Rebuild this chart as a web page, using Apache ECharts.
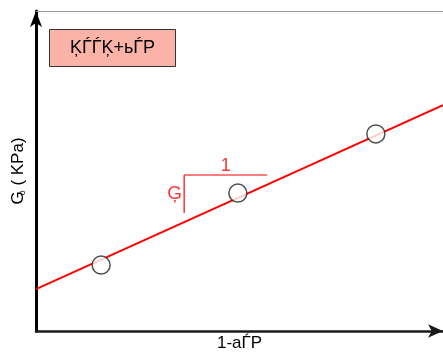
<!DOCTYPE html>
<html>
<head>
<meta charset="utf-8">
<script src="https://cdn.jsdelivr.net/npm/echarts@6/dist/echarts.min.js"></script>
<style>
  html, body { margin: 0; padding: 0; background: #fff; }
  #chart { width: 443px; height: 354px; }
</style>
</head>
<body>
<div id="chart"></div>
<script>
// Measured points (hollow circles)
const pointsX = [0.16, 0.496, 0.835];
const pointsY = [0.206, 0.431, 0.616];

// Fitted straight line, end to end across the plot
const fitX = [0, 1];
const fitY = [0.131, 0.706];

// Slope triangle: horizontal run and vertical rise
const runX = [0.364, 0.568];
const runY = [0.4875, 0.4875];
const riseX = [0.364, 0.364];
const riseY = [0.4875, 0.369];

// Texts
const legendText = 'ĶЃЃĶ+ьЃР';
const xName = '1-aЃР';
const runLabel = '1';
const riseLabel = 'Ģ';

const zip = (xs, ys) => xs.map((x, i) => [x, ys[i]]);

const chart = echarts.init(document.getElementById('chart'), null, { renderer: 'canvas' });

const FONT = 'Liberation Sans, Arial, sans-serif';

chart.setOption({
  animation: false,
  grid: { left: 36, right: 0, top: 11, bottom: 23, outerBoundsMode: 'none', containLabel: false },
  xAxis: [{
    type: 'value', min: 0, max: 1,
    name: xName, nameLocation: 'middle', nameGap: 4,
    nameTextStyle: { fontFamily: FONT, fontSize: 17, color: '#000' },
    axisLine: { show: true, onZero: false, lineStyle: { color: '#1a1a1a', width: 2.5 },
      symbol: ['none', 'arrow'], symbolSize: [10, 15] },
    axisTick: { show: false }, axisLabel: { show: false }, splitLine: { show: false }
  }, {
    type: 'value', min: 0, max: 1, position: 'top',
    axisLine: { show: true, onZero: false, lineStyle: { color: '#999', width: 1 } },
    axisTick: { show: false }, axisLabel: { show: false }, splitLine: { show: false }
  }],
  yAxis: {
    type: 'value', min: 0, max: 1,
    name: '{g|G}{s|o}{t| ( KPa)}', nameLocation: 'middle', nameGap: 9, nameRotate: 90,
    nameTextStyle: {
      fontFamily: FONT, color: '#000',
      rich: {
        g: { fontFamily: FONT, fontSize: 17, color: '#000' },
        s: { fontFamily: FONT, fontSize: 9, color: '#000', padding: [8, 0, 0, -4] },
        t: { fontFamily: FONT, fontSize: 17, color: '#000' }
      }
    },
    axisLine: { show: true, onZero: false, lineStyle: { color: '#000', width: 3 },
      symbol: ['none', 'arrow'], symbolSize: [9, 16] },
    axisTick: { show: false }, axisLabel: { show: false }, splitLine: { show: false }
  },
  series: [{
    type: 'line', data: zip(fitX, fitY), symbol: 'none',
    lineStyle: { color: '#ff0000', width: 2 }, z: 2
  }, {
    type: 'line', data: zip(runX, runY), symbol: 'none',
    lineStyle: { color: '#ff0000', width: 1.2 }, z: 2
  }, {
    type: 'line', data: zip(riseX, riseY), symbol: 'none',
    lineStyle: { color: '#ff0000', width: 1.2 }, z: 2
  }, {
    // slope annotations
    type: 'scatter', symbolSize: 0, silent: true, z: 4,
    data: [{
      value: [(runX[0] + runX[1]) / 2, runY[0]],
      label: { formatter: runLabel, position: 'top', distance: 0, fontSize: 18 }
    }, {
      value: [riseX[0], (riseY[0] + riseY[1]) / 2],
      label: { formatter: riseLabel, position: 'left', distance: 2, fontSize: 19 }
    }],
    label: { show: true, fontFamily: FONT, color: '#ff0000' }
  }, {
    type: 'scatter', data: zip(pointsX, pointsY), symbol: 'circle', symbolSize: 18,
    itemStyle: { color: '#fff', borderColor: '#222', borderWidth: 1.5 }, z: 3
  }],
  graphic: [{
    type: 'group', left: 49, top: 29,
    children: [{
      type: 'rect', shape: { x: 0, y: 0, width: 126, height: 37 },
      style: { fill: '#fbb3a8', stroke: '#333', lineWidth: 1 }
    }, {
      type: 'text', x: 63, y: 19,
      style: { text: legendText, fontFamily: FONT, fontSize: 18, fill: '#000',
        align: 'center', verticalAlign: 'middle' }
    }]
  }]
});
</script>
</body>
</html>
